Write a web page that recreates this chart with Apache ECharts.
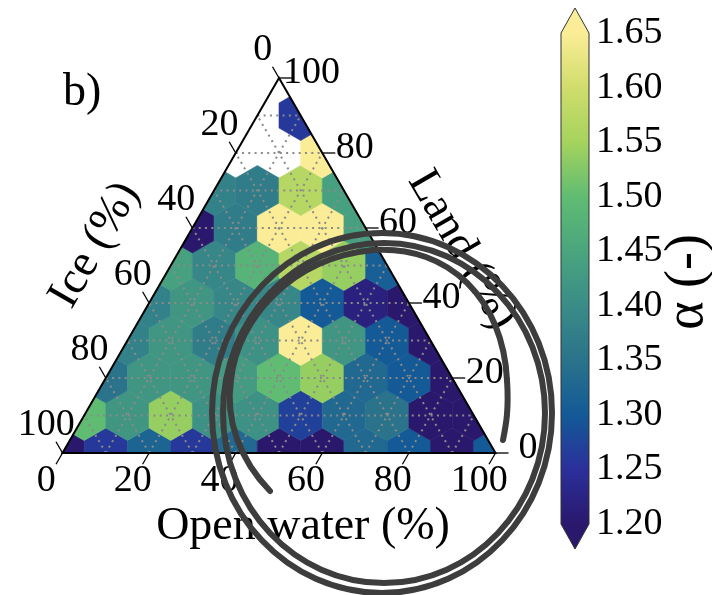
<!DOCTYPE html>
<html>
<head>
<meta charset="utf-8">
<script src="https://cdn.jsdelivr.net/npm/echarts@6/dist/echarts.min.js"></script>
<style>
  html, body { margin: 0; padding: 0; background: #fff; }
  #chart { width: 712px; height: 595px; }
</style>
</head>
<body>
<div id="chart"></div>
<script>
// Mean alpha per ternary hex cell. Each row is one land fraction (0, 10, ... 100 %),
// entries run over open water 0, 10, ... %; null = no samples in that cell.
const landLevels = [0, 10, 20, 30, 40, 50, 60, 70, 80, 90, 100];
const alphaLand0  = [1.20, 1.26, 1.32, 1.26, 1.33, 1.20, 1.20, 1.33, 1.30, 1.20, 1.30];
const alphaLand10 = [1.50, 1.42, 1.54, 1.41, 1.41, 1.27, 1.33, 1.35, 1.20, 1.20];
const alphaLand20 = [1.35, 1.42, 1.42, 1.43, 1.50, 1.54, 1.33, 1.30, 1.20];
const alphaLand30 = [1.38, 1.42, 1.37, 1.41, 1.66, 1.42, 1.30, 1.20];
const alphaLand40 = [1.38, 1.42, 1.39, 1.39, 1.30, 1.22, 1.20];
const alphaLand50 = [1.44, 1.39, 1.48, 1.57, 1.54, 1.31];
const alphaLand60 = [1.20, 1.37, 1.66, 1.66, 1.44];
const alphaLand70 = [1.38, 1.37, 1.57, 1.44];
const alphaLand80 = [null, null, 1.66];
const alphaLand90 = [null, 1.26];
const alphaLand100 = [null];
const alphaRows = [alphaLand0, alphaLand10, alphaLand20, alphaLand30, alphaLand40,
  alphaLand50, alphaLand60, alphaLand70, alphaLand80, alphaLand90, alphaLand100];

// Ternary axis ticks (percent) and grid spacing
const ternaryTicks = [0, 20, 40, 60, 80, 100];
const gridLevels = [10, 20, 30, 40, 50, 60, 70, 80, 90];

// Colour scale
const alphaMin = 1.20, alphaMax = 1.65, alphaStep = 0.05;
const halineColors = ['#2a186c', '#2b2f9b', '#135a97', '#2a738b', '#3a8c87',
  '#4aa57e', '#60bc72', '#a5d35d', '#d0dd6c', '#fbed97'];

const SQ3 = Math.sqrt(3);
const H = 50 * SQ3; // triangle height in data units

// (open water, land) -> cartesian data coordinates of an equilateral triangle
function toXY(ow, land) { return [ow + land / 2, land * SQ3 / 2]; }

// Sutherland–Hodgman clip of a polygon against the triangle
function clipToTriangle(poly) {
  const tri = [[0, 0], [100, 0], [50, H]];
  let out = poly;
  for (let e = 0; e < 3; e++) {
    const a = tri[e], b = tri[(e + 1) % 3];
    const side = p => (b[0] - a[0]) * (p[1] - a[1]) - (b[1] - a[1]) * (p[0] - a[0]);
    const inp = out; out = [];
    for (let i = 0; i < inp.length; i++) {
      const cur = inp[i], prev = inp[(i + inp.length - 1) % inp.length];
      const sc = side(cur), sp = side(prev);
      if (sc >= 0) {
        if (sp < 0) { const t = sp / (sp - sc); out.push([prev[0] + t * (cur[0] - prev[0]), prev[1] + t * (cur[1] - prev[1])]); }
        out.push(cur);
      } else if (sp >= 0) {
        const t = sp / (sp - sc); out.push([prev[0] + t * (cur[0] - prev[0]), prev[1] + t * (cur[1] - prev[1])]);
      }
    }
  }
  return out;
}

// hex cells: [open water, land, alpha]
const hexData = [];
alphaRows.forEach((row, j) => {
  row.forEach((v, k) => { if (v !== null) hexData.push([k * 10, landLevels[j], v]); });
});

// dotted grid lines in the three ternary directions: [ow1, land1, ow2, land2]
const gridLines = [];
gridLevels.forEach(g => {
  gridLines.push([0, g, 100 - g, g]);        // constant land
  gridLines.push([g, 0, g, 100 - g]);        // constant open water
  gridLines.push([100 - g, 0, 0, 100 - g]);  // constant ice
});

// ticks: [axis, value]; 0 = open water (bottom), 1 = ice (left), 2 = land (right)
const tickData = [];
[0, 1, 2].forEach(a => ternaryTicks.forEach(v => tickData.push([a, v])));

const serif = '"Liberation Serif", "Times New Roman", serif';
const tickFont = '38px ' + serif;
const titleFont = '46px ' + serif;
const pen = { fill: 'none', stroke: '#3d3d3d', lineWidth: 6, lineCap: 'round' };

const chart = echarts.init(document.getElementById('chart'));

chart.setOption({
  animation: false,
  backgroundColor: '#fff',
  grid: [
    { left: 62.5, top: 78, width: 433, height: 375 },
    { left: 561, top: 33, width: 28, height: 491 }
  ],
  xAxis: [
    { gridIndex: 0, type: 'value', min: 0, max: 100, show: false },
    { gridIndex: 1, type: 'value', min: 0, max: 1, show: false }
  ],
  yAxis: [
    { gridIndex: 0, type: 'value', min: 0, max: H, show: false },
    {
      gridIndex: 1, type: 'value', min: alphaMin, max: alphaMax, interval: alphaStep,
      position: 'right',
      axisLine: { show: false },
      splitLine: { show: false },
      axisTick: { show: true, length: 5, lineStyle: { color: '#000', width: 1 } },
      axisLabel: { margin: 7, color: '#000', fontSize: 38, fontFamily: serif,
        formatter: v => v.toFixed(2) }
    }
  ],
  visualMap: {
    type: 'continuous', show: false, seriesIndex: 0, dimension: 2,
    min: alphaMin, max: alphaMax, inRange: { color: halineColors }
  },
  series: [
    {
      // hexbin cells
      type: 'custom', xAxisIndex: 0, yAxisIndex: 0, z: 1,
      data: hexData,
      renderItem(params, api) {
        const c = toXY(api.value(0), api.value(1));
        const r = 10 / SQ3;
        let poly = [];
        for (let i = 0; i < 6; i++) {
          const a = Math.PI / 6 + i * Math.PI / 3;
          poly.push([c[0] + r * Math.cos(a), c[1] + r * Math.sin(a)]);
        }
        poly = clipToTriangle(poly);
        const color = api.visual('color');
        return { type: 'polygon', shape: { points: poly.map(p => api.coord(p)) },
          style: { fill: color, stroke: color, lineWidth: 0.6 } };
      }
    },
    {
      // dotted ternary grid
      type: 'custom', xAxisIndex: 0, yAxisIndex: 0, z: 2, silent: true,
      data: gridLines,
      renderItem(params, api) {
        const p1 = api.coord(toXY(api.value(0), api.value(1)));
        const p2 = api.coord(toXY(api.value(2), api.value(3)));
        return { type: 'line', shape: { x1: p1[0], y1: p1[1], x2: p2[0], y2: p2[1] },
          style: { stroke: '#8a8a8a', lineWidth: 2, lineDash: [2, 4.3] } };
      }
    },
    {
      // triangle frame
      type: 'custom', xAxisIndex: 0, yAxisIndex: 0, z: 3, silent: true,
      data: [[0]],
      renderItem(params, api) {
        const pts = [toXY(0, 0), toXY(100, 0), toXY(0, 100)].map(p => api.coord(p));
        return { type: 'polygon', shape: { points: pts },
          style: { fill: 'none', stroke: '#000', lineWidth: 2 } };
      }
    },
    {
      // ternary ticks and their labels
      type: 'custom', xAxisIndex: 0, yAxisIndex: 0, z: 3, silent: true,
      data: tickData,
      renderItem(params, api) {
        const axis = api.value(0), v = api.value(1);
        let base, dir;
        if (axis === 0) { base = toXY(v, 0); dir = [-0.5, SQ3 / 2]; }
        else if (axis === 1) { base = toXY(0, 100 - v); dir = [-0.5, -SQ3 / 2]; }
        else { base = toXY(100 - v, v); dir = [1, 0]; }
        const p = api.coord(base);
        const L = 13, D = 32.5, dy = axis === 2 ? -5 : 0;
        return { type: 'group', children: [
          { type: 'line', shape: { x1: p[0], y1: p[1], x2: p[0] + dir[0] * L, y2: p[1] + dir[1] * L },
            style: { stroke: '#000', lineWidth: 1.3 } },
          { type: 'text', x: p[0] + dir[0] * D, y: p[1] + dir[1] * D + dy,
            style: { text: String(v), font: tickFont, fill: '#000', align: 'center', verticalAlign: 'middle' } }
        ] };
      }
    },
    {
      // colour bar with extension triangles
      type: 'custom', xAxisIndex: 1, yAxisIndex: 1, z: 2, silent: true,
      data: [[0]],
      renderItem(params, api) {
        const tl = api.coord([0, alphaMax]);
        const br = api.coord([1, alphaMin]);
        const ext = 25, xm = (tl[0] + br[0]) / 2;
        const stops = halineColors.map((c, i) => ({ offset: i / (halineColors.length - 1), color: c }));
        return { type: 'group', children: [
          { type: 'rect', shape: { x: tl[0], y: tl[1], width: br[0] - tl[0], height: br[1] - tl[1] },
            style: { fill: new echarts.graphic.LinearGradient(0, 1, 0, 0, stops) } },
          { type: 'polygon', shape: { points: [[tl[0], tl[1]], [br[0], tl[1]], [xm, tl[1] - ext]] },
            style: { fill: halineColors[halineColors.length - 1] } },
          { type: 'polygon', shape: { points: [[tl[0], br[1]], [br[0], br[1]], [xm, br[1] + ext]] },
            style: { fill: halineColors[0] } },
          { type: 'polygon', shape: { points: [[xm, tl[1] - ext], [br[0], tl[1]], [br[0], br[1]],
              [xm, br[1] + ext], [tl[0], br[1]], [tl[0], tl[1]]] },
            style: { fill: 'none', stroke: '#333', lineWidth: 1 } }
        ] };
      }
    }
  ],
  graphic: [
    { type: 'text', x: 63, y: 93, z: 10,
      style: { text: 'b)', font: titleFont, fill: '#000', align: 'left', verticalAlign: 'middle' } },
    { type: 'text', x: 95, y: 245, rotation: Math.PI / 3, z: 10,
      style: { text: 'Ice (%)', font: titleFont, fill: '#000', align: 'center', verticalAlign: 'middle' } },
    { type: 'text', x: 462, y: 250, rotation: -Math.PI / 3, z: 10,
      style: { text: 'Land (%)', font: titleFont, fill: '#000', align: 'center', verticalAlign: 'middle' } },
    { type: 'text', x: 303, y: 527, z: 10,
      style: { text: 'Open water (%)', font: titleFont, fill: '#000', align: 'center', verticalAlign: 'middle' } },
    { type: 'text', x: 688, y: 282, rotation: Math.PI / 2, z: 10,
      style: { text: 'α (-)', font: '54px ' + serif, fill: '#000', align: 'center', verticalAlign: 'middle' } },
    // pen scribble drawn over the figure
    { type: 'ellipse', z: 50, silent: true, shape: { cx: 382, cy: 413, rx: 170, ry: 180 }, style: pen },
    { type: 'ellipse', z: 50, silent: true, shape: { cx: 384, cy: 413, rx: 161, ry: 170 }, style: pen },
    { type: 'bezierCurve', z: 50, silent: true,
      shape: { x1: 270, y1: 491, cpx1: 240, cpy1: 460, cpx2: 225, cpy2: 420, x2: 231, y2: 380 }, style: pen },
    { type: 'bezierCurve', z: 50, silent: true,
      shape: { x1: 231, y1: 380, cpx1: 237, cpy1: 320, cpx2: 290, cpy2: 258, x2: 373, y2: 250 }, style: pen },
    { type: 'bezierCurve', z: 50, silent: true,
      shape: { x1: 373, y1: 250, cpx1: 450, cpy1: 245, cpx2: 503, cpy2: 300, x2: 507, y2: 380 }, style: pen },
    { type: 'bezierCurve', z: 50, silent: true,
      shape: { x1: 507, y1: 380, cpx1: 509, cpy1: 410, cpx2: 506, cpy2: 425, x2: 503, y2: 440 }, style: pen }
  ]
});
</script>
</body>
</html>
